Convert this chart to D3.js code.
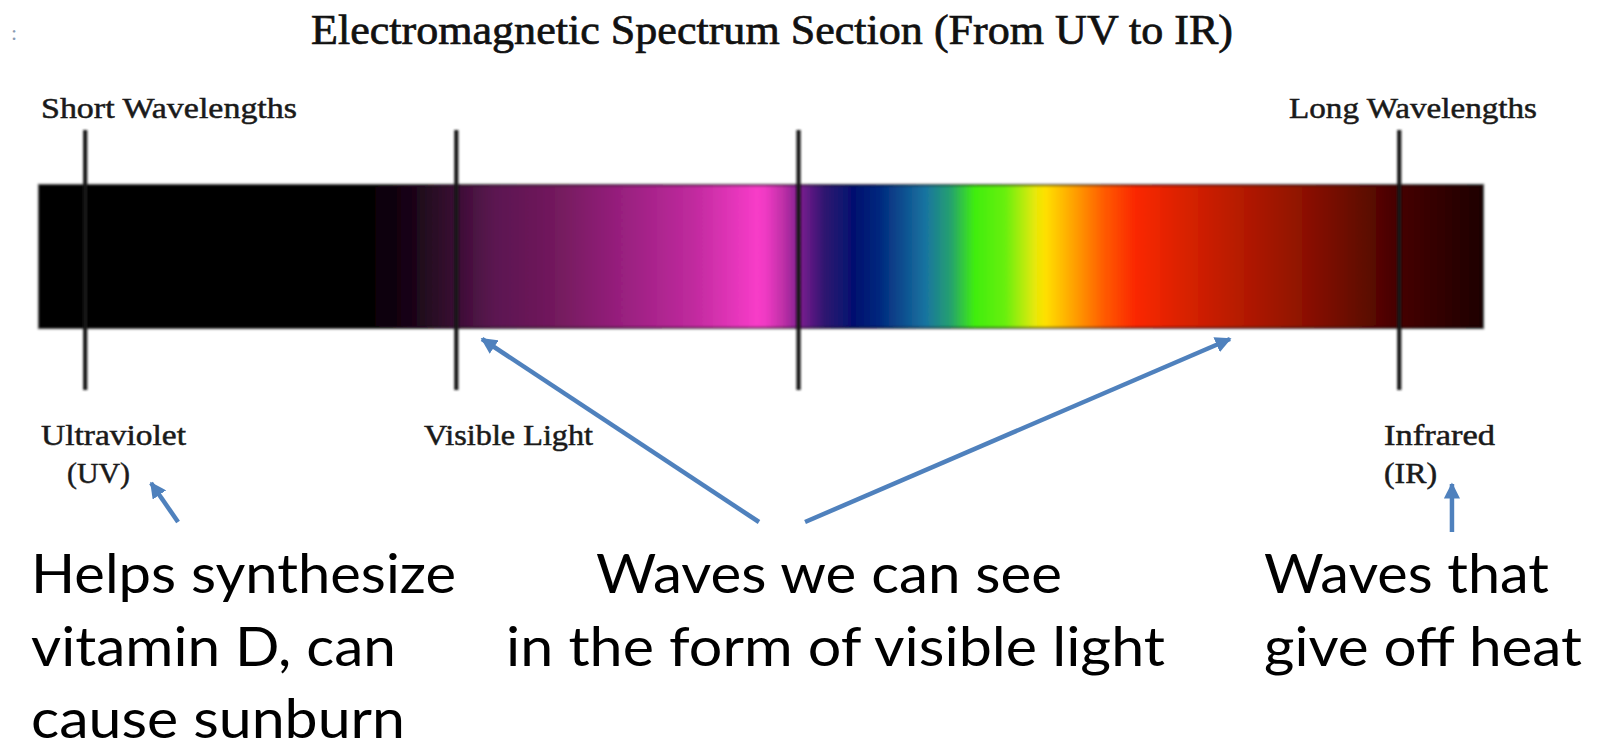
<!DOCTYPE html>
<html>
<head>
<meta charset="utf-8">
<script src="https://cdn.jsdelivr.net/npm/d3@7"></script>
<style>
  body { margin: 0; background: #fff; }
</style>
</head>
<body>
<div id="chart"></div>
<script>
/* data: positions along the strip, 0 = short end, 100 = long end */
var stopPos = [0, 22.3, 25.6, 29.0, 31.4, 36.0, 40.6, 45.3, 48.8, 49.7, 50.3, 51.5, 53.0, 54.4, 56.5, 58.2, 61.4, 63.1, 64.8, 66.9, 69.0, 69.7, 71.7, 73.8, 75.9, 79.0, 83.2, 87.3, 90.8, 93.9, 97.0, 100];
var stopColor = ["#000000", "#000000", "#170515", "#3c0f35", "#5a1550", "#741a5e", "#9a2080", "#c02a9e", "#ec38c0", "#f83cc8", "#f03ac4", "#c030a8", "#6e1c8a", "#2f1470", "#00116f", "#02287e", "#1874a0", "#25a070", "#40ee10", "#68f00a", "#e8e808", "#ffe000", "#ffa000", "#ff5a00", "#fb2800", "#dc2200", "#b51a00", "#901200", "#6a0a00", "#480400", "#320200", "#1e0000"];
var markerPos = [3.2, 28.9, 52.6, 94.2];
var endLabels = ["Short Wavelengths", "Long Wavelengths"];
var bandLabels = [["Ultraviolet", "(UV)"], ["Visible Light"], ["Infrared", "(IR)"]];
var noteLines = [["Helps synthesize", "vitamin D, can", "cause sunburn"], ["Waves we can see", "in the form of visible light"], ["Waves that", "give off heat"]];
var titleText = "Electromagnetic Spectrum Section (From UV to IR)";

var width = 1598, height = 751;
var barTop = 185, barBottom = 328;

var x = d3.scaleLinear().domain([0, 100]).range([39, 1483]);

var svg = d3.select("#chart").append("svg")
  .attr("width", width)
  .attr("height", height);

svg.append("rect").attr("width", width).attr("height", height).attr("fill", "#fff");

var defs = svg.append("defs");

var grad = defs.append("linearGradient")
  .attr("id", "spec")
  .attr("gradientUnits", "userSpaceOnUse")
  .attr("x1", x(0)).attr("x2", x(100))
  .attr("y1", 0).attr("y2", 0);

grad.selectAll("stop")
  .data(stopPos)
  .enter()
  .append("stop")
  .attr("offset", function(d){ return (d / 100); })
  .attr("stop-color", function(d, i){ return stopColor[i]; });

/* blur in user space so thin lines keep a region */
defs.append("filter").attr("id", "soft")
  .attr("filterUnits", "userSpaceOnUse")
  .attr("x", 0).attr("y", 0).attr("width", width).attr("height", height)
  .append("feGaussianBlur").attr("stdDeviation", 1.2);

defs.append("marker")
  .attr("id", "head")
  .attr("viewBox", "0 0 10 10")
  .attr("refX", 9).attr("refY", 5)
  .attr("markerWidth", 3.6).attr("markerHeight", 3.6)
  .attr("markerUnits", "strokeWidth")
  .attr("orient", "auto")
  .append("path")
  .attr("d", "M0,0L10,5L0,10z")
  .attr("fill", "#4f81bd");

/* stray glyph top-left */
svg.append("text")
  .text(":")
  .attr("x", 11).attr("y", 40)
  .attr("font-family", "Liberation Serif")
  .attr("font-size", 22)
  .attr("fill", "#8a9bb3");

/* title */
svg.append("text")
  .text(titleText)
  .attr("x", 311).attr("y", 44)
  .attr("textLength", 922)
  .attr("lengthAdjust", "spacingAndGlyphs")
  .attr("font-family", "Liberation Serif")
  .attr("font-size", 42)
  .attr("fill", "#111")
  .attr("stroke", "#111")
  .attr("stroke-width", 0.7);

/* spectrum strip */
svg.append("rect")
  .attr("x", x(0))
  .attr("y", barTop)
  .attr("width", x(100) - x(0))
  .attr("height", barBottom - barTop)
  .attr("fill", "url(#spec)")
  .attr("stroke", "#000")
  .attr("stroke-opacity", 0.55)
  .attr("stroke-width", 2.5)
  .attr("filter", "url(#soft)");

/* marker lines */
svg.selectAll("line.marker")
  .data(markerPos)
  .enter()
  .append("line")
  .attr("class", "marker")
  .attr("x1", function(d){ return x(d); })
  .attr("x2", function(d){ return x(d); })
  .attr("y1", 130)
  .attr("y2", 390)
  .attr("stroke", "#161616")
  .attr("stroke-width", 4.2)
  .attr("filter", "url(#soft)");

/* short / long labels */
var endLayout = [{x: 41, w: 256, anchor: "start"}, {x: 1537, w: 248, anchor: "end"}];
svg.selectAll("text.end")
  .data(endLabels)
  .enter()
  .append("text")
  .attr("class", "end")
  .text(function(d){ return d; })
  .attr("x", function(d, i){ return endLayout[i].anchor == "start" ? endLayout[i].x : endLayout[i].x - endLayout[i].w; })
  .attr("y", 118)
  .attr("textLength", function(d, i){ return endLayout[i].w; })
  .attr("lengthAdjust", "spacingAndGlyphs")
  .attr("font-family", "Liberation Serif")
  .attr("font-size", 29)
  .attr("fill", "#1a1a1a")
  .attr("stroke", "#1a1a1a")
  .attr("stroke-width", 0.5);

/* band labels under the strip */
var bandLayout = [
  {x: 41, widths: [145, 63], offs: [0, 26]},
  {x: 424, widths: [169], offs: [0]},
  {x: 1384, widths: [111, 53], offs: [0, 0]}
];
bandLabels.forEach(function(lines, i){
  svg.selectAll("text.band" + i)
    .data(lines)
    .enter()
    .append("text")
    .attr("class", "band" + i)
    .text(function(d){ return d; })
    .attr("x", function(d, j){ return bandLayout[i].x + bandLayout[i].offs[j]; })
    .attr("y", function(d, j){ return 445 + j * 38; })
    .attr("textLength", function(d, j){ return bandLayout[i].widths[j]; })
    .attr("lengthAdjust", "spacingAndGlyphs")
    .attr("font-family", "Liberation Serif")
    .attr("font-size", 29)
    .attr("fill", "#1a1a1a")
    .attr("stroke", "#1a1a1a")
    .attr("stroke-width", 0.5);
});

/* notes */
var noteLayout = [
  {x: [31, 31, 31], w: [425, 365, 374]},
  {x: [596, 506], w: [466, 659]},
  {x: [1264, 1264], w: [285, 318]}
];
noteLines.forEach(function(lines, i){
  svg.selectAll("text.note" + i)
    .data(lines)
    .enter()
    .append("text")
    .attr("class", "note" + i)
    .text(function(d){ return d; })
    .attr("x", function(d, j){ return noteLayout[i].x[j]; })
    .attr("y", function(d, j){ return 593 + j * 72.5; })
    .attr("textLength", function(d, j){ return noteLayout[i].w[j]; })
    .attr("lengthAdjust", "spacingAndGlyphs")
    .attr("font-family", "Lato")
    .attr("font-size", 55)
    .attr("fill", "#000");
});

/* arrows: tail (u, y) -> tip (u, y) */
var arrows = [
  {u0: 9.63, y0: 522, u1: 7.76, y1: 483},
  {u0: 49.86, y0: 522, u1: 30.68, y1: 339},
  {u0: 53.05, y0: 522, u1: 82.48, y1: 339},
  {u0: 97.85, y0: 532, u1: 97.85, y1: 484}
];
svg.selectAll("line.arrow")
  .data(arrows)
  .enter()
  .append("line")
  .attr("class", "arrow")
  .attr("x1", function(d){ return x(d.u0); })
  .attr("y1", function(d){ return d.y0; })
  .attr("x2", function(d){ return x(d.u1); })
  .attr("y2", function(d){ return d.y1; })
  .attr("stroke", "#4f81bd")
  .attr("stroke-width", 4.5)
  .attr("marker-end", "url(#head)");
</script>
</body>
</html>
